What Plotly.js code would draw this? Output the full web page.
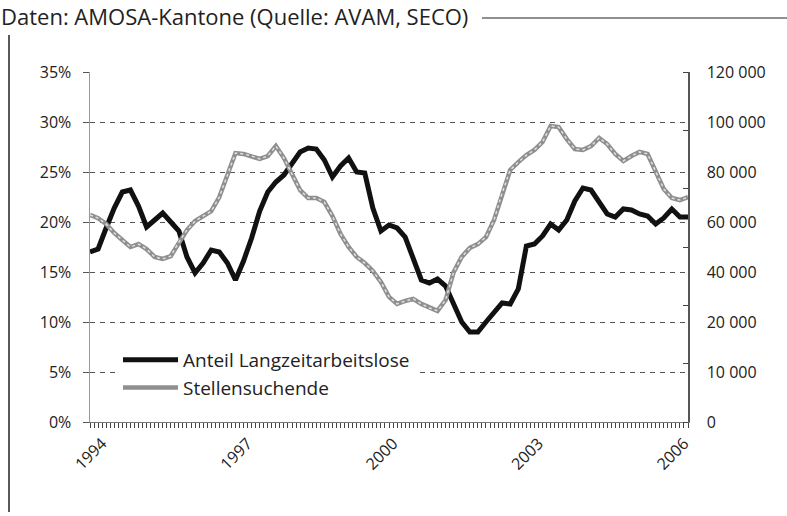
<!DOCTYPE html>
<html>
<head>
<meta charset="utf-8">
<script src="https://cdn.plot.ly/plotly-3.0.1.min.js"></script>
<style>html,body{margin:0;padding:0;background:#fff;}#chart{width:787px;height:516px;}</style>
</head>
<body>
<div id="chart"></div>
<script>
// Bimonthly observations starting October 1993 (x in decimal years)
const startYear = 1993, startMonth = 10, stepMonths = 2;

// Anteil Langzeitarbeitslose (%), left axis
const anteilLZA = [17.0,17.3,19.4,21.4,23.0,23.2,21.6,19.5,20.2,20.9,20.0,19.1,16.5,14.9,15.9,17.2,17.0,15.9,14.2,16.1,
  18.4,21.1,23.0,24.0,24.7,25.8,27.0,27.4,27.3,26.2,24.5,25.6,26.4,25.0,24.9,21.4,19.1,19.7,19.4,18.5,
  16.3,14.2,13.9,14.3,13.6,11.9,10.0,9.0,9.0,10.0,11.0,11.9,11.8,13.3,17.6,17.8,18.6,19.8,19.2,20.2,
  22.1,23.4,23.2,21.9,20.8,20.5,21.3,21.2,20.8,20.6,19.8,20.4,21.3,20.5,20.5];

// Stellensuchende (persons), right axis
const stellensuchende = [71000,69900,67900,64800,62400,60000,61000,59300,56600,55900,56900,61700,65800,68900,70600,72300,77100,84300,92200,91900,
  91200,90200,91200,94600,90500,85000,79500,76800,76800,75400,70600,64500,60000,56600,54500,51800,48000,42900,40500,41500,
  42200,40500,39100,38100,41800,51400,56600,59700,61000,63400,69300,78500,86400,89100,91500,93300,96000,101500,101100,97000,
  93600,93300,94600,97400,95300,91900,89500,91200,92600,91900,86100,79900,76800,76100,77100];

const seriesNames = ['Anteil Langzeitarbeitslose', 'Stellensuchende'];
const leftTicks = [0,5,10,15,20,25,30,35];
const leftTickText = ['0%','5%','10%','15%','20%','25%','30%','35%'];
const rightTickText = ['0','10 000','20 000','40 000','60 000','80 000','100 000','120 000'];
const rightTickMarks = [0,20000,40000,60000,80000,100000,120000];
const xLabelYears = [1994, 1997, 2000, 2003, 2006];
const titleText = 'Daten: AMOSA-Kantone (Quelle: AVAM, SECO)';

const xs = anteilLZA.map((_, i) => startYear + (startMonth - 1 + i * stepMonths) / 12);

const W = 787, H = 516, L = 90, R = 99, T = 72, B = 94;
const pw = W - L - R, ph = H - T - B;
const px = x => (x - L) / pw;
const py = y => (H - B - y) / ph;

const FONT = 'Open Sans, Noto Sans, sans-serif';

const traces = [
  {x: xs, y: stellensuchende, yaxis: 'y2', type: 'scatter', mode: 'lines', name: seriesNames[1],
   legendgroup: 'b', legendrank: 2, line: {color: '#8f8f8f', width: 4.5}},
  {x: xs, y: stellensuchende, yaxis: 'y2', type: 'scatter', mode: 'lines', name: seriesNames[1],
   legendgroup: 'b', legendrank: 3, showlegend: false, hoverinfo: 'skip', line: {color: '#e0e0e0', width: 1.5, dash: 'dot'}},
  {x: xs, y: anteilLZA, type: 'scatter', mode: 'lines', name: seriesNames[0],
   legendgroup: 'a', legendrank: 1, line: {color: '#111111', width: 5}}
];

const layout = {
  width: W, height: H,
  margin: {l: L, r: R, t: T, b: B, pad: 0},
  paper_bgcolor: '#ffffff', plot_bgcolor: '#ffffff',
  font: {family: FONT, size: 16, color: '#222'},
  showlegend: true,
  legend: {x: px(118), y: py(341), xanchor: 'left', yanchor: 'top', bgcolor: '#ffffff',
           font: {family: FONT, size: 19, color: '#222'}, itemwidth: 55, traceorder: 'normal',
           tracegroupgap: 3, borderwidth: 0},
  xaxis: {type: 'linear', range: [startYear + (startMonth - 1) / 12, xs[xs.length - 1]],
          tickmode: 'array', tickvals: xLabelYears, ticktext: xLabelYears.map(String),
          tickangle: -45, ticks: 'outside', ticklen: 5, tickcolor: '#444', tickwidth: 1,
          minor: {tick0: xLabelYears[0], dtick: 1 / 12, ticks: 'outside', ticklen: 5, tickcolor: '#444', tickwidth: 1, showgrid: false},
          showgrid: false, zeroline: false, showline: true, linecolor: '#777', linewidth: 1,
          ticklabelstandoff: 0, tickfont: {size: 16, color: '#222'}},
  yaxis: {range: [0, 35], tickvals: leftTicks, ticktext: leftTickText, showgrid: true, gridcolor: '#555',
          griddash: '5px,5px', gridwidth: 1, zeroline: false, showline: true, linecolor: '#999',
          linewidth: 1.5, ticks: 'outside', ticklen: 6, tickcolor: '#555', ticklabelstandoff: 8,
          tickfont: {size: 16, color: '#222'}},
  yaxis2: {overlaying: 'y', side: 'right', anchor: 'x', range: [0, 120000],
           tickvals: rightTickText.map((_, i) => i * 120000 / (rightTickText.length - 1)),
           ticktext: rightTickText, ticks: '', showgrid: false, zeroline: false, showline: true,
           linecolor: '#555', linewidth: 1.5, ticklabelstandoff: 14,
           minor: {tickvals: rightTickMarks, ticks: 'inside', ticklen: 5, tickcolor: '#444', tickwidth: 1, showgrid: false},
           tickfont: {size: 16, color: '#222'}},
  shapes: [
    {type: 'line', xref: 'paper', yref: 'paper', x0: px(9), x1: px(9), y0: py(35), y1: py(512),
     line: {color: '#222', width: 1.5}},
    {type: 'line', xref: 'paper', yref: 'paper', x0: px(482), x1: px(787), y0: py(18), y1: py(18),
     line: {color: '#222', width: 1.2}}
  ],
  annotations: [
    {text: titleText, xref: 'paper', yref: 'paper', x: px(0), y: py(32), xanchor: 'left', yanchor: 'bottom',
     borderpad: 0, showarrow: false, font: {family: FONT, size: 22, color: '#222'}}
  ]
};

Plotly.newPlot('chart', traces, layout, {displayModeBar: false, staticPlot: true});
</script>
</body>
</html>
